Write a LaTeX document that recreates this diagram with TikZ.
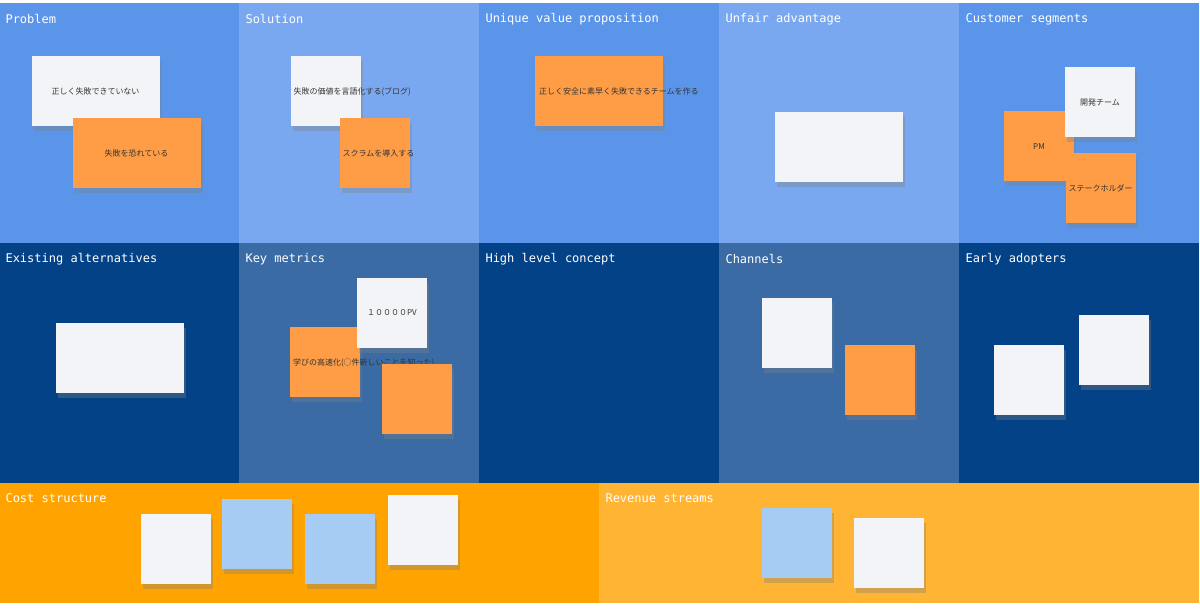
\documentclass[tikz,border=0pt]{standalone}
\usepackage{fontspec}
\setmonofont{DejaVu Sans Mono}
\newfontfamily\jp{Noto Sans CJK JP}
\usetikzlibrary{positioning, shadows}
\definecolor{pblue}{HTML}{5A95EA}
\definecolor{plight}{HTML}{7AA8F0}
\definecolor{pdark}{HTML}{044287}
\definecolor{pmid}{HTML}{3A6BA5}
\definecolor{porange}{HTML}{FFA300}
\definecolor{porange2}{HTML}{FFB433}
\definecolor{sorange}{HTML}{FF9D47}
\definecolor{swhite}{HTML}{F3F4F7}
\definecolor{sblue}{HTML}{A6CCF3}
\tikzset{
    title/.style = {anchor=west, text=white, font=\ttfamily\fontsize{12}{14}\selectfont},
    sticky/.style = {rectangle, minimum width=70pt, minimum height=70pt, inner sep=2pt,
                     align=center, text width=64pt, font=\jp\fontsize{8}{10}\selectfont,
                     text=black!80, drop shadow={shadow xshift=2pt, shadow yshift=-5pt, opacity=.35}},
    wide/.style = {minimum width=128pt, text width=120pt},
    wnote/.style = {sticky, fill=swhite},
    onote/.style = {sticky, fill=sorange},
    bnote/.style = {sticky, fill=sblue}
}
\begin{document}
\begin{tikzpicture}[x=1pt, y=-1pt]
\useasboundingbox (0,0) rectangle (1200,609);
% panels
\fill[pblue] (0,3) rectangle (239,243);
\fill[plight] (239,3) rectangle (479,243);
\fill[pblue] (479,3) rectangle (719,243);
\fill[plight] (719,3) rectangle (959,243);
\fill[pblue] (959,3) rectangle (1199,243);
\fill[pdark] (0,243) rectangle (239,483);
\fill[pmid] (239,243) rectangle (479,483);
\fill[pdark] (479,243) rectangle (719,483);
\fill[pmid] (719,243) rectangle (959,483);
\fill[pdark] (959,243) rectangle (1199,483);
\fill[porange] (0,483) rectangle (599,603);
\fill[porange2] (599,483) rectangle (1199,603);
% titles
\node[title] (t1) at (2,19) {Problem};
\node[title] (t2) at (242,19) {Solution};
\node[title] (t3) at (482,19) {Unique value proposition};
\node[title] (t4) at (722,19) {Unfair advantage};
\node[title] (t5) at (962,19) {Customer segments};
\node[title] (t6) at (2,259) {Existing alternatives};
\node[title] (t7) at (242,259) {Key metrics};
\node[title] (t8) at (482,259) {High level concept};
\node[title] (t9) at (722,259) {Channels};
\node[title] (t10) at (962,259) {Early adopters};
\node[title] (t11) at (2,498) {Cost structure};
\node[title] (t12) at (602,498) {Revenue streams};
% problem
\node[wnote, wide] (pb1) at (95.5,91.5) {正しく失敗できていない};
\node[onote, wide] (pb2) at (136.5,153) {失敗を恐れている};
% solution
\node[wnote] (sl1) at (325.5,91.5) {失敗の価値を言語化する(ブログ)};
\node[onote] (sl2) at (374.5,153) {スクラムを導入する};
% unique value proposition
\node[onote, wide] (uv1) at (599,91.5) {正しく安全に素早く失敗できるチームを作る};
% unfair advantage
\node[wnote, wide] (ua1) at (838.5,147) {};
% customer segments
\node[onote] (cs1) at (1039,146.5) {PM};
\node[wnote] (cs2) at (1100,102) {開発チーム};
\node[onote] (cs3) at (1100.5,188) {ステークホルダー};
% existing alternatives
\node[wnote, wide] (ea1) at (120,358.5) {};
% key metrics
\node[onote] (km1) at (325,362.5) {学びの高速化(○件新しいことを知った)};
\node[wnote] (km2) at (392,313) {１００００PV};
\node[onote] (km3) at (417,399) {};
% channels
\node[wnote] (ch1) at (796.5,333.5) {};
\node[onote] (ch2) at (880,380.5) {};
% early adopters
\node[wnote] (ad1) at (1029,380) {};
\node[wnote] (ad2) at (1113.5,350) {};
% cost structure
\node[wnote] (co1) at (176,549) {};
\node[bnote] (co2) at (257,534) {};
\node[bnote] (co3) at (339.5,549) {};
\node[wnote] (co4) at (423,530) {};
% revenue streams
\node[bnote] (rv1) at (796.5,543) {};
\node[wnote] (rv2) at (889,553) {};
\end{tikzpicture}
\end{document}
